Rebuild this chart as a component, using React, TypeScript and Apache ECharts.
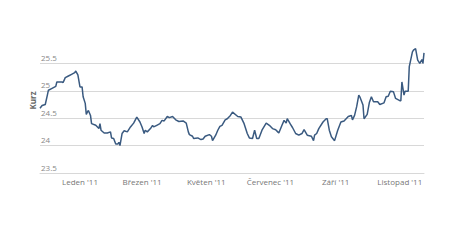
import React, { useEffect, useRef } from "react";
import * as echarts from "echarts";

const dates: string[] = [
  "2010-11-24", "2010-11-26", "2010-11-29", "2010-12-01", "2010-12-02", "2010-12-05", "2010-12-09", "2010-12-10",
  "2010-12-15", "2010-12-16", "2010-12-18", "2010-12-21", "2010-12-24", "2010-12-27", "2010-12-28", "2010-12-30",
  "2011-01-01", "2011-01-03", "2011-01-04", "2011-01-06", "2011-01-07", "2011-01-08", "2011-01-09", "2011-01-11",
  "2011-01-12", "2011-01-16", "2011-01-19", "2011-01-20", "2011-01-21", "2011-01-24", "2011-01-27", "2011-01-30",
  "2011-01-31", "2011-02-02", "2011-02-04", "2011-02-06", "2011-02-07", "2011-02-08", "2011-02-10", "2011-02-12",
  "2011-02-15", "2011-02-18", "2011-02-21", "2011-02-24", "2011-02-27", "2011-03-01", "2011-03-03", "2011-03-04",
  "2011-03-06", "2011-03-09", "2011-03-11", "2011-03-12", "2011-03-15", "2011-03-18", "2011-03-20", "2011-03-22",
  "2011-03-25", "2011-03-27", "2011-03-30", "2011-04-02", "2011-04-05", "2011-04-09", "2011-04-12", "2011-04-14",
  "2011-04-15", "2011-04-18", "2011-04-19", "2011-04-23", "2011-04-26", "2011-04-28", "2011-04-30", "2011-05-04",
  "2011-05-06", "2011-05-07", "2011-05-10", "2011-05-12", "2011-05-14", "2011-05-16", "2011-05-19", "2011-05-21",
  "2011-05-24", "2011-05-26", "2011-05-31", "2011-06-03", "2011-06-06", "2011-06-09", "2011-06-11", "2011-06-14",
  "2011-06-16", "2011-06-18", "2011-06-20", "2011-06-23", "2011-06-27", "2011-06-30", "2011-07-03", "2011-07-06",
  "2011-07-08", "2011-07-09", "2011-07-12", "2011-07-14", "2011-07-16", "2011-07-17", "2011-07-20", "2011-07-22",
  "2011-07-25", "2011-07-28", "2011-07-31", "2011-08-02", "2011-08-05", "2011-08-09", "2011-08-11", "2011-08-12",
  "2011-08-14", "2011-08-16", "2011-08-20", "2011-08-23", "2011-08-24", "2011-08-26", "2011-08-28", "2011-08-31",
  "2011-09-03", "2011-09-06", "2011-09-09", "2011-09-11", "2011-09-13", "2011-09-16", "2011-09-17", "2011-09-19",
  "2011-09-21", "2011-09-23", "2011-09-24", "2011-09-27", "2011-09-28", "2011-10-01", "2011-10-03", "2011-10-05",
  "2011-10-07", "2011-10-11", "2011-10-13", "2011-10-17", "2011-10-19", "2011-10-21", "2011-10-23", "2011-10-26",
  "2011-10-28", "2011-11-01", "2011-11-02", "2011-11-03", "2011-11-05", "2011-11-06", "2011-11-09", "2011-11-10",
  "2011-11-13", "2011-11-14", "2011-11-16", "2011-11-18", "2011-11-20", "2011-11-22", "2011-11-23", "2011-11-24",
];

const rates: number[] = [
  24.68, 24.73, 24.75, 24.92, 25.01, 25.04, 25.08, 25.16,
  25.16, 25.15, 25.24, 25.27, 25.30, 25.33, 25.36, 25.29,
  25.07, 25.07, 24.89, 24.77, 24.57, 24.61, 24.64, 24.55,
  24.40, 24.37, 24.31, 24.40, 24.28, 24.23, 24.23, 24.25,
  24.14, 24.13, 24.03, 24.03, 24.06, 24.00, 24.22, 24.27,
  24.25, 24.34, 24.41, 24.52, 24.43, 24.34, 24.22, 24.28,
  24.25, 24.31, 24.37, 24.34, 24.37, 24.40, 24.46, 24.45,
  24.53, 24.51, 24.53, 24.47, 24.44, 24.45, 24.41, 24.25,
  24.20, 24.17, 24.13, 24.14, 24.11, 24.12, 24.17, 24.20,
  24.17, 24.09, 24.19, 24.28, 24.35, 24.37, 24.47, 24.49,
  24.55, 24.61, 24.53, 24.52, 24.40, 24.22, 24.14, 24.13,
  24.28, 24.13, 24.13, 24.28, 24.41, 24.37, 24.31, 24.29,
  24.25, 24.23, 24.37, 24.46, 24.41, 24.49, 24.39, 24.33,
  24.22, 24.19, 24.22, 24.29, 24.19, 24.17, 24.09, 24.19,
  24.22, 24.31, 24.43, 24.49, 24.49, 24.28, 24.16, 24.09,
  24.28, 24.43, 24.45, 24.49, 24.53, 24.55, 24.47, 24.55,
  24.71, 24.92, 24.89, 24.74, 24.49, 24.57, 24.78, 24.89,
  24.80, 24.80, 24.75, 24.78, 24.89, 24.90, 24.99, 24.98,
  24.86, 24.82, 24.82, 25.16, 24.92, 24.99, 24.99, 25.44,
  25.71, 25.74, 25.77, 25.56, 25.50, 25.57, 25.50, 25.69,
];

const yTicks: number[] = [23.5, 24, 24.5, 25, 25.5];
const monthTicks: string[] = ["2011-01-01", "2011-03-01", "2011-05-01", "2011-07-01", "2011-09-01", "2011-11-01"];
const monthNames: string[] = [
  "Leden", "Únor", "Březen", "Duben", "Květen", "Červen",
  "Červenec", "Srpen", "Září", "Říjen", "Listopad", "Prosinec",
];
const yAxisTitle = "Kurz";

const FONT = "'Open Sans', 'DejaVu Sans', sans-serif";

export default function App() {
  const ref = useRef<HTMLDivElement>(null);

  useEffect(() => {
    if (!ref.current) return;
    const chart = echarts.init(ref.current, undefined, { renderer: "svg" });
    const ts = (s: string) => new Date(s + "T00:00:00Z").getTime();
    const tickTs = monthTicks.map(ts);
    chart.setOption({
      animation: false,
      backgroundColor: "#ffffff",
      grid: { left: 40, right: 36, top: 48, bottom: 72, containLabel: false },
      xAxis: {
        type: "value",
        min: ts(dates[0]),
        max: ts(dates[dates.length - 1]),
        axisLine: { show: true, onZero: false, lineStyle: { color: "#d8d8d8", width: 1 } },
        axisTick: { show: false, customValues: tickTs },
        splitLine: { show: false },
        axisLabel: {
          customValues: tickTs,
          color: "#777777",
          fontSize: 8,
          fontFamily: FONT,
          margin: 4,
          hideOverlap: false,
          showMinLabel: true,
          showMaxLabel: true,
          formatter: (v: number) => {
            const d = new Date(v);
            const m = d.getUTCMonth();
            const y = String(d.getUTCFullYear()).slice(2);
            return monthNames[m] + " '" + y;
          },
        },
      },
      yAxis: {
        type: "value",
        min: 23.5,
        max: 25.78,
        name: yAxisTitle,
        nameLocation: "middle",
        nameGap: 4,
        nameMoveOverlap: false,
        nameTextStyle: { color: "#666666", fontSize: 8, fontWeight: "bold", fontFamily: FONT, padding: [0, 0, 0, 20] },
        axisLine: { show: false },
        axisTick: { show: false, customValues: yTicks },
        splitLine: { show: true, lineStyle: { color: "#d8d8d8", width: 1 } },
        axisLabel: {
          customValues: yTicks,
          inside: true,
          margin: 1,
          color: "#888888",
          fontSize: 8,
          fontFamily: FONT,
          verticalAlign: "bottom",
          align: "left",
          padding: [0, 0, 2, 0],
          formatter: (v: number) => String(v),
        },
      },
      series: [
        {
          type: "line",
          data: dates.map((d, i) => [ts(d), rates[i]]),
          showSymbol: false,
          symbol: "none",
          lineStyle: { color: "#3a5a80", width: 1.5 },
          itemStyle: { color: "#3a5a80" },
        },
      ],
    });
    return () => chart.dispose();
  }, []);

  return <div ref={ref} style={{ position: "fixed", left: 0, top: 0, width: 460, height: 245 }} />;
}
